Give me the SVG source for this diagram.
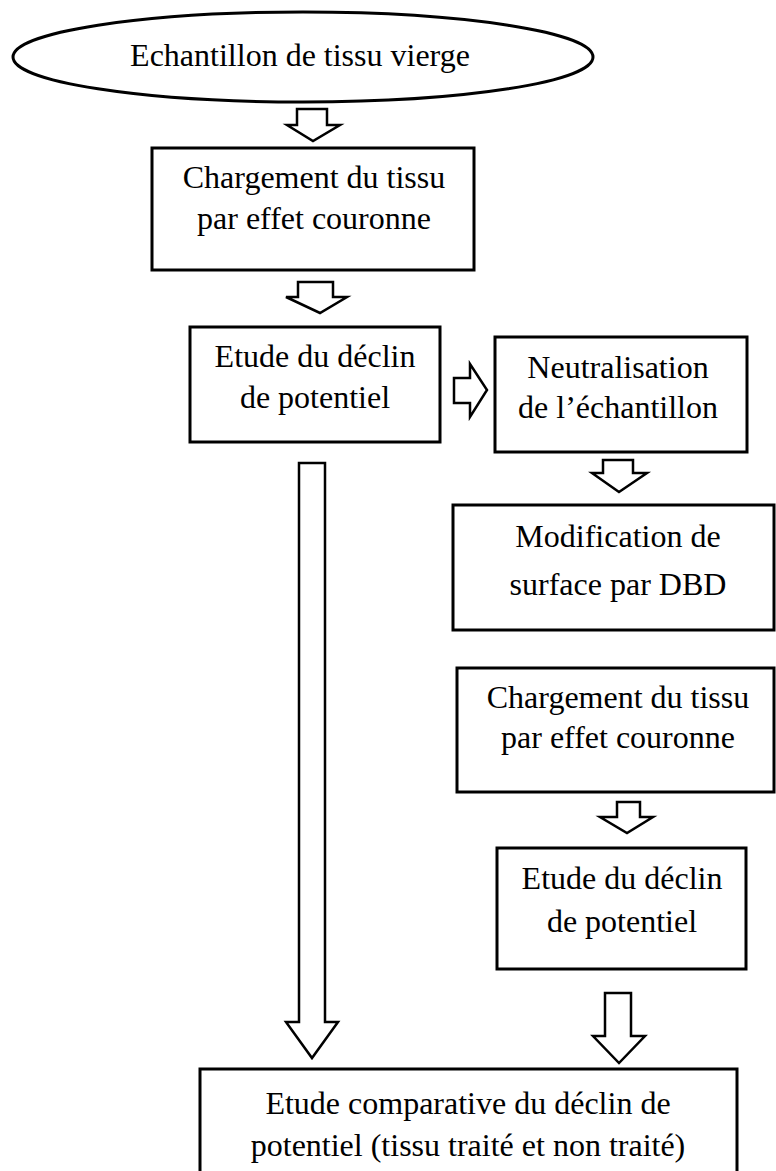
<svg xmlns="http://www.w3.org/2000/svg" width="776" height="1171" viewBox="0 0 776 1171">
  <style>
    .box { fill: #fff; stroke: #000; stroke-width: 3; }
    .arrow { fill: #fff; stroke: #000; stroke-width: 2.5; stroke-linejoin: miter; }
    .label { font-family: "Liberation Serif", "Times New Roman", serif; font-size: 32px; fill: #000; text-anchor: middle; }
  </style>
  <rect width="776" height="1171" fill="#fff"/>

  <!-- block arrows between the steps -->
  <g id="connectors">
    <polygon class="arrow" points="297,109 327,109 327,125 340,125 313,141 287,125 297,125"/>
    <polygon class="arrow" points="298,282 333,282 333,297 347,297 320,313 286,297 298,297"/>
    <polygon class="arrow" points="454,378 470,378 470,364 487,390 470,417 470,403 454,403"/>
    <polygon class="arrow" points="603,460 633,460 633,473 647,473 619,492 592,473 603,473"/>
    <polygon class="arrow" points="617,802 640,802 640,817 653,817 627,833 600,817 617,817"/>
    <polygon class="arrow" points="605,993 631,993 631,1036 645,1036 619,1063 593,1036 605,1036"/>
    <polygon class="arrow" points="299,463 325,463 325,1022 338,1022 312,1058 286,1022 299,1022"/>
  </g>

  <g id="start">
    <ellipse cx="303" cy="57" rx="290" ry="45" fill="#fff" stroke="#000" stroke-width="3"/>
    <text class="label" x="300" y="66">Echantillon de tissu vierge</text>
  </g>

  <g id="charge1">
    <rect class="box" x="152" y="148" width="322" height="122"/>
    <text class="label" x="314" y="188">Chargement du tissu</text>
    <text class="label" x="314" y="229">par effet couronne</text>
  </g>

  <g id="decline1">
    <rect class="box" x="190" y="327" width="250" height="115"/>
    <text class="label" x="315" y="367">Etude du déclin</text>
    <text class="label" x="315" y="408">de potentiel</text>
  </g>

  <g id="neutral">
    <rect class="box" x="495" y="337" width="252" height="115"/>
    <text class="label" x="618" y="378">Neutralisation</text>
    <text class="label" x="618" y="418">de l’échantillon</text>
  </g>

  <g id="dbd">
    <rect class="box" x="453" y="505" width="321" height="125"/>
    <text class="label" x="618" y="547">Modification de</text>
    <text class="label" x="618" y="595">surface par DBD</text>
  </g>

  <g id="charge2">
    <rect class="box" x="457" y="668" width="317" height="124"/>
    <text class="label" x="618" y="708">Chargement du tissu</text>
    <text class="label" x="618" y="748">par effet couronne</text>
  </g>

  <g id="decline2">
    <rect class="box" x="497" y="848" width="249" height="121"/>
    <text class="label" x="622" y="889">Etude du déclin</text>
    <text class="label" x="622" y="932">de potentiel</text>
  </g>

  <g id="compare">
    <rect class="box" x="200" y="1069" width="537" height="140"/>
    <text class="label" x="468" y="1114">Etude comparative du déclin de</text>
    <text class="label" x="468" y="1156">potentiel (tissu traité et non traité)</text>
  </g>
</svg>
